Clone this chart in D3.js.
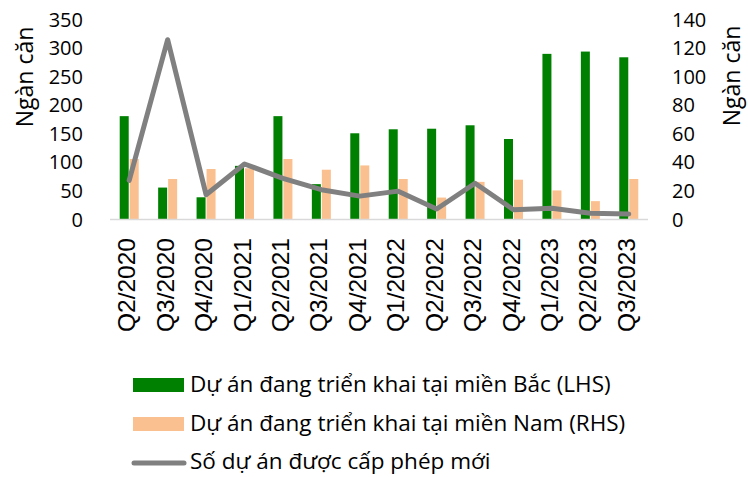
<!DOCTYPE html>
<html>
<head>
<meta charset="utf-8">
<script src="https://cdn.jsdelivr.net/npm/d3@7"></script>
<style>
  body { margin: 0; background: #fff; }
  .tick-text { font-family: "Open Sans", sans-serif; font-size: 20px; fill: #000; }
  .title-text { font-family: "Open Sans", sans-serif; font-size: 23px; fill: #000; }
  .cat-text { font-family: "Liberation Sans", Arial, sans-serif; font-size: 24.5px; fill: #000; }
  .legend-text { font-family: "Open Sans", sans-serif; font-size: 22.5px; fill: #000; }
</style>
</head>
<body>
<div class="chart"></div>
<script>
// quarters
var quarters = ["Q2/2020","Q3/2020","Q4/2020","Q1/2021","Q2/2021","Q3/2021","Q4/2021",
  "Q1/2022","Q2/2022","Q3/2022","Q4/2022","Q1/2023","Q2/2023","Q3/2023"];

// north projects (LHS, thousand units)
var northVals = [180, 55, 38, 93, 180, 61, 150, 157, 158, 164, 140, 289, 293, 283];
// south projects (RHS)
var southVals = [42, 28, 35, 35.5, 42, 34.5, 37.5, 28, 15, 26, 27.5, 20, 12.5, 28];
// newly licensed projects (RHS)
var newVals = [27, 125.5, 17, 38.5, 28.5, 20.5, 16, 19.5, 7, 25, 6.5, 7.5, 4, 3.5];

var leftTicks = [0, 50, 100, 150, 200, 250, 300, 350];
var rightTicks = [0, 20, 40, 60, 80, 100, 120, 140];

var legendNames = ["Dự án đang triển khai tại miền Bắc (LHS)",
  "Dự án đang triển khai tại miền Nam (RHS)",
  "Số dự án được cấp phép mới"];

var svgWidth = 748, svgHeight = 477;
var margin = { top: 19, left: 110, right: 100, bottom: 258 };
var chartWidth = svgWidth - margin.left - margin.right;
var chartHeight = svgHeight - margin.top - margin.bottom;

var svg = d3.select(".chart")
  .append("svg")
  .attr("width", svgWidth)
  .attr("height", svgHeight);

var chartGroup = svg.append("g")
  .attr("transform", `translate(${margin.left}, ${margin.top})`);

var xScale = d3.scaleBand()
  .domain(quarters)
  .range([0, chartWidth]);

var yLeft = d3.scaleLinear().domain([0, 350]).range([chartHeight, 0]);
var yRight = d3.scaleLinear().domain([0, 140]).range([chartHeight, 0]);

// left axis
var leftAxis = chartGroup.append("g")
  .call(d3.axisLeft(yLeft).tickValues(leftTicks).tickSize(0).tickPadding(27));
leftAxis.select(".domain").remove();
leftAxis.selectAll("text").attr("class", "tick-text").attr("font-size", null).attr("font-family", null).attr("dy", "0.35em");

// right axis
var rightAxis = chartGroup.append("g")
  .attr("transform", `translate(${chartWidth}, 0)`)
  .call(d3.axisRight(yRight).tickValues(rightTicks).tickSize(0).tickPadding(24));
rightAxis.select(".domain").remove();
rightAxis.selectAll("text").attr("class", "tick-text").attr("font-size", null).attr("font-family", null).attr("dy", "0.35em");

// bars
var barW = 9;
chartGroup.selectAll(".north")
  .data(northVals)
  .enter()
  .append("rect")
  .attr("x", (d, i) => xScale(quarters[i]) + xScale.bandwidth() / 2 - barW - 0.5)
  .attr("y", d => yLeft(d))
  .attr("width", barW)
  .attr("height", d => chartHeight - yLeft(d))
  .attr("fill", "#008000");

chartGroup.selectAll(".south")
  .data(southVals)
  .enter()
  .append("rect")
  .attr("x", (d, i) => xScale(quarters[i]) + xScale.bandwidth() / 2 + 0.5)
  .attr("y", d => yRight(d))
  .attr("width", barW)
  .attr("height", d => chartHeight - yRight(d))
  .attr("fill", "#fac090");

// baseline
chartGroup.append("line")
  .attr("x1", 0).attr("x2", chartWidth)
  .attr("y1", chartHeight + 0.5).attr("y2", chartHeight + 0.5)
  .attr("stroke", "#d9d9d9")
  .attr("stroke-width", 1.5);

// line
var line = d3.line()
  .x((d, i) => xScale(quarters[i]) + xScale.bandwidth() / 2)
  .y(d => yRight(d));

chartGroup.append("path")
  .datum(newVals)
  .attr("d", line)
  .attr("fill", "none")
  .attr("stroke", "#808080")
  .attr("stroke-width", 5)
  .attr("stroke-linejoin", "round")
  .attr("stroke-linecap", "round");

// category labels
chartGroup.selectAll(".cat")
  .data(quarters)
  .enter()
  .append("text")
  .attr("class", "cat-text")
  .attr("transform", d => `translate(${xScale(d) + xScale.bandwidth() / 2 + 6}, ${chartHeight + 19}) rotate(-90)`)
  .attr("text-anchor", "end")
  .text(d => d);

// axis titles
svg.append("text")
  .attr("class", "title-text")
  .attr("transform", "translate(33, 77) rotate(-90)")
  .attr("text-anchor", "middle")
  .text("Ngàn căn");

svg.append("text")
  .attr("class", "title-text")
  .attr("transform", "translate(740, 76) rotate(-90)")
  .attr("text-anchor", "middle")
  .text("Ngàn căn");

// legend
var legend = svg.append("g");
legend.append("rect").attr("x", 133).attr("y", 378).attr("width", 51).attr("height", 14).attr("fill", "#008000");
legend.append("rect").attr("x", 133).attr("y", 417).attr("width", 51).attr("height", 14).attr("fill", "#fac090");
legend.append("line").attr("x1", 134).attr("x2", 184).attr("y1", 463).attr("y2", 463)
  .attr("stroke", "#808080").attr("stroke-width", 5).attr("stroke-linecap", "round");

legend.selectAll(".legend-text")
  .data(legendNames)
  .enter()
  .append("text")
  .attr("class", "legend-text")
  .attr("x", 190)
  .attr("y", (d, i) => 384.5 + i * 38.5)
  .attr("dy", "0.35em")
  .text(d => d);
</script>
</body>
</html>
